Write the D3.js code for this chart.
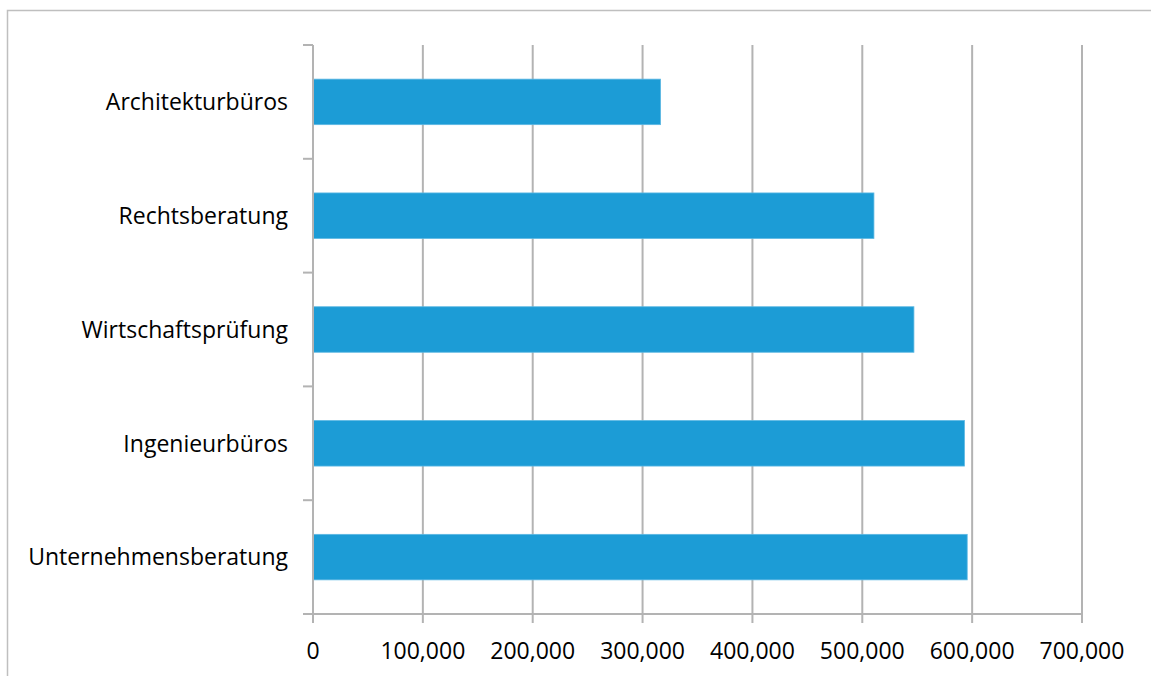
<!DOCTYPE html>
<html>
<head>
<meta charset="utf-8">
<script src="https://cdn.jsdelivr.net/npm/d3@7"></script>
<style>
  body { margin: 0; background: #fff; }
  svg { display: block; }
</style>
</head>
<body>
<div id="chart"></div>
<script>
const width = 1151;
const height = 676;
const fontFamily = "Open Sans";

// Categories top to bottom
const categories = ["Architekturbüros", "Rechtsberatung", "Wirtschaftsprüfung", "Ingenieurbüros", "Unternehmensberatung"];
const values = [316400, 510600, 547000, 593000, 595500];
const xTicks = [0, 100000, 200000, 300000, 400000, 500000, 600000, 700000];

const margin = { top: 45, right: 69, bottom: 62, left: 313 };
const gridColor = "#b3b3b3";
const barColor = "#1c9cd6";

const svg = d3.select("#chart").append("svg")
    .attr("width", width)
    .attr("height", height);

// Outer chart border (runs off the right and bottom of the picture)
svg.append("rect")
    .attr("x", 7.5)
    .attr("y", 10.5)
    .attr("width", width + 20)
    .attr("height", height + 20)
    .attr("fill", "none")
    .attr("stroke", "#bfbfbf")
    .attr("stroke-width", 1.5);

const x = d3.scaleLinear()
    .domain([0, 700000])
    .range([margin.left, width - margin.right]);

const y = d3.scaleBand()
    .domain(categories)
    .range([margin.top, height - margin.bottom])
    .paddingInner(0.6)
    .paddingOuter(0.3);

// Vertical gridlines
svg.append("g")
    .selectAll("line")
    .data(xTicks)
    .enter()
    .append("line")
    .attr("x1", d => x(d))
    .attr("x2", d => x(d))
    .attr("y1", margin.top)
    .attr("y2", height - margin.bottom + 9)
    .attr("stroke", gridColor)
    .attr("stroke-width", 2);

// Bars
svg.append("g")
    .selectAll("rect")
    .data(categories)
    .enter()
    .append("rect")
    .attr("x", x(0))
    .attr("y", d => y(d))
    .attr("width", (d, i) => x(values[i]) - x(0))
    .attr("height", y.bandwidth())
    .attr("fill", barColor)
    .attr("stroke", "#5db8e3")
    .attr("stroke-width", 0.8);

// Y axis line + ticks at band boundaries
const step = y.step();
const boundaries = d3.range(categories.length + 1).map(i => margin.top + i * step);
svg.append("line")
    .attr("x1", x(0)).attr("x2", x(0))
    .attr("y1", margin.top).attr("y2", height - margin.bottom)
    .attr("stroke", gridColor).attr("stroke-width", 2);
svg.append("g")
    .selectAll("line")
    .data(boundaries)
    .enter()
    .append("line")
    .attr("x1", x(0) - 10)
    .attr("x2", x(0))
    .attr("y1", d => d)
    .attr("y2", d => d)
    .attr("stroke", gridColor)
    .attr("stroke-width", 2);

// X axis line
svg.append("line")
    .attr("x1", x(0) - 10).attr("x2", x(700000))
    .attr("y1", height - margin.bottom).attr("y2", height - margin.bottom)
    .attr("stroke", gridColor).attr("stroke-width", 2);

// X tick labels
svg.append("g")
    .selectAll("text")
    .data(xTicks)
    .enter()
    .append("text")
    .attr("x", d => x(d))
    .attr("y", 659)
    .attr("text-anchor", "middle")
    .attr("font-family", fontFamily)
    .attr("font-size", "23px")
    .attr("fill", "#000")
    .text(d => d3.format(",")(d));

// Category labels
svg.append("g")
    .selectAll("text")
    .data(categories)
    .enter()
    .append("text")
    .attr("x", 288)
    .attr("y", d => y(d) + y.bandwidth() / 2)
    .attr("dy", "0.36em")
    .attr("text-anchor", "end")
    .attr("font-family", fontFamily)
    .attr("font-size", "23px")
    .attr("fill", "#000")
    .text(d => d);
</script>
</body>
</html>
